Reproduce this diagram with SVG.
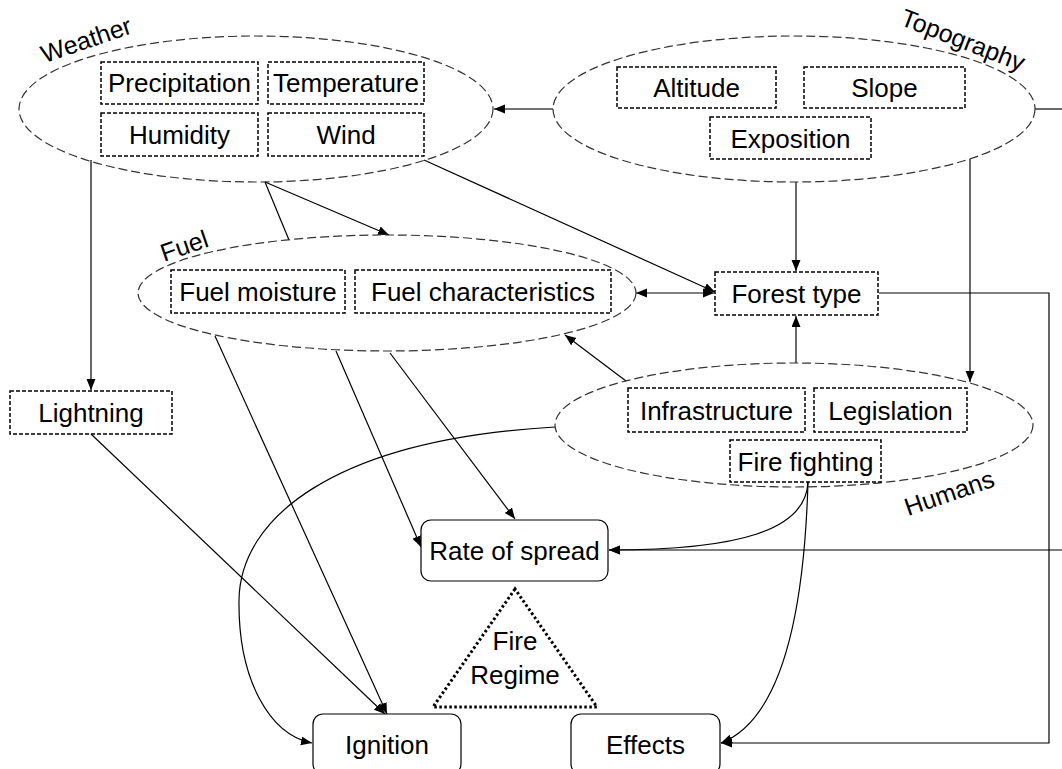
<svg xmlns="http://www.w3.org/2000/svg" width="1062" height="769" viewBox="0 0 1062 769">
<style>
.grp{fill:none;stroke:#333;stroke-width:1.2;stroke-dasharray:9,4}
.box{fill:#fff;stroke:#000;stroke-width:1.5;stroke-dasharray:4,2}
.rbox{fill:#fff;stroke:#000;stroke-width:1.2}
.t{font-family:"Liberation Sans",Arial,sans-serif;font-size:26px;fill:#000;text-anchor:middle}
.lbl{font-family:"Liberation Sans",Arial,sans-serif;font-size:25px;fill:#000;text-anchor:middle}
.c{fill:none;stroke:#000;stroke-width:1.2}
.cg{fill:none;stroke:#444;stroke-width:1.6}
</style>
<defs>
<marker id="a" markerUnits="userSpaceOnUse" markerWidth="12" markerHeight="10" refX="11" refY="4.5" orient="auto">
<path d="M0,0 L11,4.5 L0,9 z" fill="#000"/>
</marker>
<marker id="as" markerUnits="userSpaceOnUse" markerWidth="12" markerHeight="10" refX="0" refY="4.5" orient="auto">
<path d="M11,0 L0,4.5 L11,9 z" fill="#000"/>
</marker>
</defs>
<rect width="1062" height="769" fill="#fff"/>

<g id="connectors">
<line class="cg" x1="553" y1="109" x2="494" y2="109" marker-end="url(#a)"/>
<line class="cg" x1="1035" y1="109" x2="1062" y2="109"/>
<line class="cg" x1="796" y1="182" x2="796" y2="271" marker-end="url(#a)"/>
<line class="cg" x1="970" y1="159" x2="970" y2="382" marker-end="url(#a)"/>
<line class="c" x1="424" y1="160" x2="715" y2="292" marker-end="url(#a)"/>
<line class="c" x1="91" y1="160" x2="91" y2="390" marker-end="url(#a)"/>
<polyline class="c" points="265,182 289,240"/>
<line class="c" x1="265" y1="182" x2="389" y2="235" marker-end="url(#a)"/>
<line class="c" x1="714" y1="293" x2="636" y2="293" marker-start="url(#as)" marker-end="url(#a)"/>
<line class="cg" x1="796" y1="363" x2="796" y2="316" marker-end="url(#a)"/>
<line class="c" x1="626" y1="381" x2="565" y2="335" marker-end="url(#a)"/>
<polyline class="c" points="879,293 1049,293 1049,743 721,743" marker-end="url(#a)"/>
<line class="c" x1="1062" y1="550" x2="609" y2="550" marker-end="url(#a)"/>
<path class="c" d="M808,482 C806,530 740,550 609,550" marker-end="url(#a)"/>
<path class="c" d="M808,482 C804,620 780,720 721,743" marker-end="url(#a)"/>
<path class="c" d="M555,427 C330,440 240,520 239,600 C238,680 270,735 312,743" marker-end="url(#a)"/>
<line class="c" x1="91" y1="434" x2="385" y2="714" marker-end="url(#a)"/>
<line class="c" x1="215" y1="336" x2="387" y2="714" marker-end="url(#a)"/>
<line class="c" x1="336" y1="351" x2="421" y2="547" marker-end="url(#a)"/>
<line class="c" x1="390" y1="353" x2="515" y2="519" marker-end="url(#a)"/>
</g>

<g id="weather">
<ellipse class="grp" cx="256" cy="109" rx="237" ry="73"/>
<text class="lbl" transform="translate(89,48) rotate(-19)">Weather</text>
<rect class="box" x="101" y="62" width="157" height="42"/>
<text class="t" x="179.5" y="92">Precipitation</text>
<rect class="box" x="268" y="62" width="156" height="42"/>
<text class="t" x="346" y="92">Temperature</text>
<rect class="box" x="101" y="113" width="157" height="43"/>
<text class="t" x="179.5" y="144">Humidity</text>
<rect class="box" x="268" y="113" width="156" height="43"/>
<text class="t" x="346" y="144">Wind</text>
</g>

<g id="topography">
<ellipse class="grp" cx="794" cy="109" rx="241" ry="73"/>
<text class="lbl" transform="translate(960,48) rotate(21)">Topography</text>
<rect class="box" x="617" y="67" width="159" height="41"/>
<text class="t" x="696.5" y="97">Altitude</text>
<rect class="box" x="804" y="67" width="161" height="41"/>
<text class="t" x="884.5" y="97">Slope</text>
<rect class="box" x="710" y="117" width="161" height="42"/>
<text class="t" x="790.5" y="148">Exposition</text>
</g>

<g id="fuel">
<ellipse class="grp" cx="387" cy="293" rx="249" ry="58"/>
<text class="lbl" transform="translate(187,254) rotate(-19)">Fuel</text>
<rect class="box" x="171" y="270" width="174" height="43"/>
<text class="t" x="258" y="301">Fuel moisture</text>
<rect class="box" x="355" y="270" width="256" height="43"/>
<text class="t" x="483" y="301">Fuel characteristics</text>
</g>

<g id="forest-type">
<rect class="box" x="715" y="272" width="163" height="43"/>
<text class="t" x="796.5" y="303">Forest type</text>
</g>

<g id="humans">
<ellipse class="grp" cx="794" cy="425" rx="239" ry="62"/>
<text class="lbl" transform="translate(952,501) rotate(-19)">Humans</text>
<rect class="box" x="628" y="388" width="177" height="44"/>
<text class="t" x="716.5" y="420">Infrastructure</text>
<rect class="box" x="814" y="388" width="153" height="44"/>
<text class="t" x="890.5" y="420">Legislation</text>
<rect class="box" x="730" y="440" width="151" height="42"/>
<text class="t" x="805.5" y="471">Fire fighting</text>
</g>

<g id="lightning">
<rect class="box" x="10" y="391" width="162" height="43"/>
<text class="t" x="91" y="422">Lightning</text>
</g>

<g id="rate-of-spread">
<rect class="rbox" x="421" y="520" width="187" height="61" rx="10"/>
<text class="t" x="514.5" y="560">Rate of spread</text>
</g>

<g id="fire-regime">
<polygon points="515,589 433,707 597,707" fill="none" stroke="#000" stroke-width="3" stroke-dasharray="2.5,2.5"/>
<text class="t" x="515" y="650">Fire</text>
<text class="t" x="515" y="684">Regime</text>
</g>

<g id="ignition">
<rect class="rbox" x="313" y="714" width="148" height="60" rx="10"/>
<text class="t" x="387" y="754">Ignition</text>
</g>

<g id="effects">
<rect class="rbox" x="571" y="714" width="149" height="60" rx="10"/>
<text class="t" x="645.5" y="754">Effects</text>
</g>
</svg>
